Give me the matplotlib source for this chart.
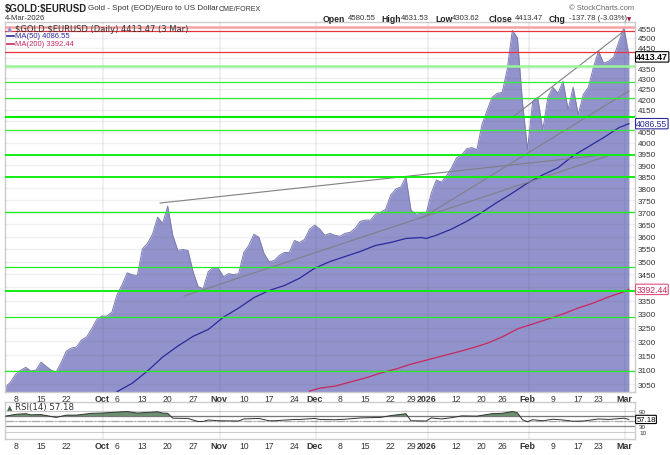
import numpy as np
import matplotlib
matplotlib.use("Agg")
import matplotlib.pyplot as plt
from matplotlib.ticker import NullLocator

plt.rcParams['font.family'] = ['Liberation Sans', 'DejaVu Sans']

# daily close, one value per trading day, 4 Sep 2025 to 3 Mar 2026
close = [3040, 3057, 3084, 3098, 3108, 3095, 3098, 3126, 3112, 3098,
         3091, 3126, 3165, 3176, 3180, 3205, 3216, 3245, 3280, 3292,
         3292, 3307, 3372, 3410, 3456, 3449, 3445, 3550, 3572, 3609,
         3679, 3654, 3725, 3605, 3544, 3548, 3544, 3461, 3403, 3395,
         3461, 3477, 3473, 3441, 3453, 3449, 3453, 3536, 3564, 3609,
         3597, 3532, 3500, 3504, 3524, 3536, 3536, 3584, 3576, 3588,
         3630, 3646, 3630, 3605, 3613, 3605, 3601, 3613, 3617, 3634,
         3662, 3667, 3667, 3691, 3699, 3712, 3772, 3797, 3806, 3849,
         3708, 3691, 3695, 3695, 3780, 3836, 3827, 3853, 3889, 3933,
         3946, 3973, 3978, 3969, 4082, 4147, 4209, 4228, 4233, 4345,
         4538, 4500, 4185, 3969, 4190, 4209, 4057, 4209, 4257, 4228,
         4286, 4152, 4257, 4128, 4223, 4257, 4354, 4434, 4374, 4384,
         4404, 4479, 4551.25, 4413.47]

ma50_idx = [22, 25, 28, 31, 34, 37, 40, 43, 46, 49, 52, 55, 58, 61, 64, 67, 70, 73, 76, 79,
            82, 83, 85, 88, 91, 94, 97, 100, 103, 106, 109, 112, 115, 118, 121, 123]
ma50 = [3024, 3053, 3095, 3144, 3183, 3218, 3243, 3288, 3322, 3361, 3388, 3407, 3435, 3474,
        3500, 3520, 3540, 3564, 3576, 3592, 3596, 3592, 3605, 3630, 3662, 3699, 3741, 3780,
        3823, 3858, 3889, 3942, 3982, 4023, 4068, 4086.55]

ma200_idx = [60, 62, 65, 68, 71, 74, 77, 80, 83, 86, 89, 92, 95, 98, 101, 104, 107, 110, 113,
             116, 119, 122, 123]
ma200 = [3026, 3036, 3043, 3057, 3071, 3088, 3102, 3119, 3133, 3147, 3161, 3176, 3193, 3216,
         3245, 3263, 3281, 3300, 3322, 3341, 3364, 3383, 3392.44]

rsi_idx = [0, 2, 4, 5, 7, 10, 12, 14, 17, 19, 24, 26, 30, 31, 32, 33, 36, 38, 39, 40, 42, 46,
           47, 50, 52, 53, 57, 58, 61, 62, 65, 67, 70, 74, 76, 79, 80, 83, 84, 86, 88, 90, 93,
           96, 98, 100, 101, 102, 103, 104, 106, 108, 110, 112, 114, 117, 119, 122, 123]
rsi = [70, 77, 79.5, 75, 76, 65, 74, 74, 81, 82, 88, 82, 87, 82, 81, 62, 61, 49, 49, 55, 52, 51,
       59, 61, 52, 52, 57, 57, 61, 57, 56, 58, 63, 65, 72, 79.5, 52, 51, 63, 59, 64, 71, 70,
       79.5, 81, 88, 83, 56, 48, 56, 52, 58, 55, 50, 51, 59, 57, 62, 57.18]

# horizontal levels drawn on the chart: price, colour, width
level_price = [4553, 4533, 4428, 4362, 4281, 4207, 4117, 4057, 3944, 3849, 3700, 3478, 3386, 3288, 3095]
level_color = ['#f5a3a3', '#e8343c', '#e8343c', '#98f598', '#33ee33', '#33ee33', '#00ee00', '#33ee33',
               '#11ee11', '#11ee11', '#22ee22', '#22ee22', '#11ee11', '#22ee22', '#22ee22']
level_width = [1.8, 0.9, 0.9, 1.8, 0.9, 0.9, 1.5, 0.9, 1.4, 1.4, 1.0, 0.9, 1.4, 0.9, 0.9]

# gray trend lines: start index, start price, end index, end price
trend_lines = [(30.5, 3738, 116.3, 3941),
               (35.2, 3367, 118.8, 3941),
               (82.1, 3675, 123, 4239),
               (100.1, 4117, 121.8, 4530)]

price_ticks = list(range(3050, 4600, 50))
hidden_prices = [3400, 4100, 4400]  # sit behind the value boxes
# the 29 label is nudged left of its day so it clears 2026
date_idx = [2, 7, 12, 19, 22, 27, 32, 37, 42, 47, 52, 57, 61, 66, 71, 76, 80.1, 83, 89, 94, 98,
            103, 108, 113, 117, 122]
date_labels = ['8', '15', '22', 'Oct', '6', '13', '20', '27', 'Nov', '10', '17', '24', 'Dec', '8',
               '15', '22', '29', '2026', '12', '20', '26', 'Feb', '9', '17', '23', 'Mar']
bold_labels = ['Oct', 'Nov', 'Dec', '2026', 'Feb', 'Mar']
rsi_ticks = [90, 70, 50, 30, 10]
rsi_shown = [90, 30, 10]

W, H = 670, 456
FILL = '#9292cc'
days = np.arange(len(close))


def axes_box(left, top, right, bottom):
    return [left / W, 1 - bottom / H, (right - left) / W, (bottom - top) / H]


def put(x, y, s, **kw):
    # pixel position from the top left corner
    kw.setdefault('va', 'center')
    return fig.text(x / W, 1 - y / H, s, **kw)


def style_dates(ax):
    ax.set_xlim(-0.1, 124.2)
    ax.set_xticks(date_idx)
    ax.set_xticklabels(date_labels, fontsize=6.2, color='#333333')
    for lab in ax.get_xticklabels():
        if lab.get_text() in bold_labels:
            lab.set_fontweight('bold')
            lab.set_fontsize(6.4)
    ax.tick_params(axis='x', length=0, pad=1.5)
    for i, lab in zip(date_idx, date_labels):
        if lab in bold_labels:
            ax.axvline(i + 0.3, color='#555577', alpha=0.09, lw=1.4, zorder=3)
    for name, spine in ax.spines.items():
        spine.set_color('#cccccc')
        spine.set_linewidth(1)


fig = plt.figure(figsize=(W / 100, H / 100), dpi=100)
ax = fig.add_axes(axes_box(5, 23, 635, 393))
ax2 = fig.add_axes(axes_box(5, 403, 635, 440))

# price panel
ax.set_yscale('log')
ax.set_ylim(3023, 4581)
ax.fill_between(days, close, 3000, color=FILL, lw=0, zorder=2)
ax.plot(days, close, color='#7c7cb2', lw=0.7, zorder=2.5)
for p in price_ticks:
    ax.axhline(p, color='#555555', alpha=0.08, lw=1, zorder=3)
ax.plot(ma50_idx, ma50, color='#2a2a9c', lw=0.9, zorder=4)
ax.plot(ma200_idx, ma200, color='#c8285a', lw=0.9, zorder=4)
for x0, p0, x1, p1 in trend_lines:
    ax.plot([x0, x1], [p0, p1], color='#808085', lw=0.8, zorder=5)
for p, c, w in zip(level_price, level_color, level_width):
    ax.axhline(p, color=c, lw=w, zorder=6)

ax.yaxis.tick_right()
ax.yaxis.set_minor_locator(NullLocator())
ax.set_yticks(price_ticks)
ax.set_yticklabels(['' if p in hidden_prices else str(p) for p in price_ticks], fontsize=5.9, color='#333333')
ax.tick_params(axis='y', length=0, pad=2)
style_dates(ax)

# RSI panel
ax2.set_ylim(-19, 125)
for v in rsi_ticks:
    ax2.axhline(v, color='#cccccc', lw=0.8, zorder=1)
ax2.axhline(70, color='#777777', lw=0.9, zorder=2)
ax2.axhline(50, color='#aaaaaa', lw=0.9, ls='-.', zorder=2)
ax2.axhline(30, color='#888888', lw=0.9, zorder=2)
rsi_days = np.array(rsi_idx)
rsi_vals = np.array(rsi)
ax2.fill_between(rsi_days, rsi_vals, 70, where=rsi_vals > 70, interpolate=True, color='#6b8f6f', lw=0, zorder=3)
ax2.plot(rsi_days, rsi_vals, color='#333333', lw=0.7, zorder=4)
ax2.yaxis.tick_right()
ax2.set_yticks(rsi_ticks)
ax2.set_yticklabels([str(v) if v in rsi_shown else '' for v in rsi_ticks], fontsize=4.6, color='#333333')
ax2.tick_params(axis='y', length=0, pad=3)
style_dates(ax2)

# value boxes on the right edge
box = dict(boxstyle='round,pad=0.08', fc='white', lw=0.8)
ax.text(1.002, 4405, '4413.47', transform=ax.get_yaxis_transform(), fontsize=6.4, fontweight='bold',
        va='center', color='black', bbox=dict(box, ec='black'), zorder=10, clip_on=False)
ax.text(1.002, 4086.55, '4086.55', transform=ax.get_yaxis_transform(), fontsize=6.2,
        va='center', color='#2a2a9c', bbox=dict(box, ec='#2a2a9c'), zorder=10, clip_on=False)
ax.text(1.002, 3392.44, '3392.44', transform=ax.get_yaxis_transform(), fontsize=6.2,
        va='center', color='#c8285a', bbox=dict(box, ec='#e0507a'), zorder=10, clip_on=False)
ax2.text(1.002, 57.18, '57.18', transform=ax2.get_yaxis_transform(), fontsize=5.6,
         va='center', color='black', bbox=dict(box, ec='black'), zorder=10, clip_on=False)

# header
put(5, 9, '\\$GOLD:\\$EURUSD', fontsize=6.9, fontweight='bold', color='#222222')
put(88, 9, 'Gold - Spot (EOD)/Euro to US Dollar', fontsize=5.8, color='#333333')
put(219, 9.5, 'CME/FOREX', fontsize=5, color='#333333')
put(5, 19, '4-Mar-2026', fontsize=5.6, color='#333333')
put(634, 9, '\u00a9 StockCharts.com', fontsize=5.4, color='#666666', ha='right')

put(323, 19, 'Open', fontsize=6.2, fontweight='bold', color='#222222')
put(348, 19, '4580.55', fontsize=5.6, color='#333333')
put(381, 19, 'High', fontsize=6.2, fontweight='bold', color='#222222')
put(401, 19, '4631.53', fontsize=5.6, color='#333333')
put(435, 19, 'Low', fontsize=6.2, fontweight='bold', color='#222222')
put(452, 19, '4303.62', fontsize=5.6, color='#333333')
put(489, 19, 'Close', fontsize=6.2, fontweight='bold', color='#222222')
put(515, 19, '4413.47', fontsize=5.6, color='#333333')
put(549, 19, 'Chg', fontsize=6.2, fontweight='bold', color='#222222')
put(569, 19, '-137.78 (-3.03%)', fontsize=5.6, color='#333333')
put(627, 19.5, '\u25bc', fontsize=4, color='#a01040', family='DejaVu Sans')

# legends inside the panels
put(7, 29, '\u25b2', fontsize=5, color=FILL, family='DejaVu Sans')
put(15, 29, '\\$GOLD:\\$EURUSD (Daily) 4413.47 (3 Mar)', fontsize=6, color='#333333', family='DejaVu Sans')
put(15, 37, 'MA(50) 4086.55', fontsize=5.5, color='#2a2a9c')
put(15, 45, 'MA(200) 3392.44', fontsize=5.5, color='#c8285a')
fig.add_artist(plt.Line2D([7 / W, 14 / W], [1 - 37 / H] * 2, color='#2a2a9c', lw=1.2))
fig.add_artist(plt.Line2D([7 / W, 14 / W], [1 - 45 / H] * 2, color='#c8285a', lw=1.2))
put(7, 408, '\u25b2', fontsize=5, color='#4a6a4e', family='DejaVu Sans')
put(15, 408, 'RSI(14) 57.18', fontsize=6.2, color='#333333', family='DejaVu Sans')

fig.savefig('out.png', dpi=100)
